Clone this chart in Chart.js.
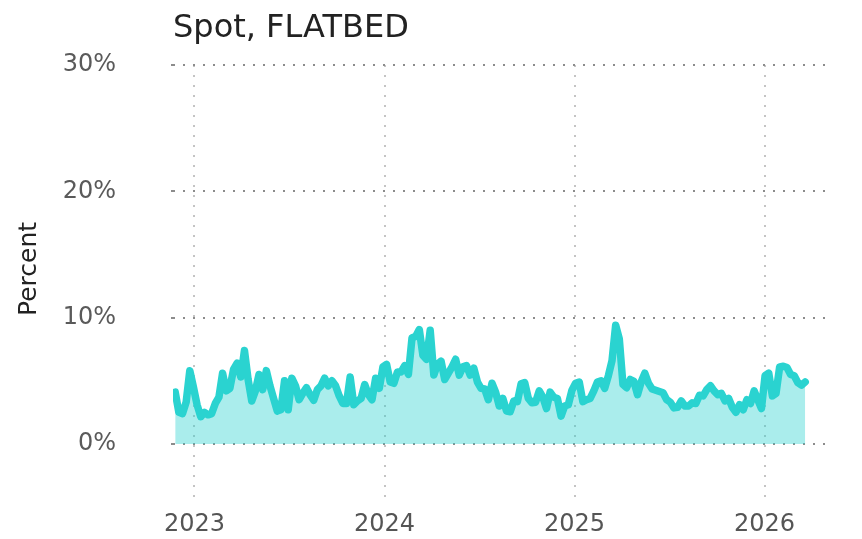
<!DOCTYPE html>
<html>
<head>
<meta charset="utf-8">
<script src="https://cdn.jsdelivr.net/npm/chart.js@4.4.1/dist/chart.umd.min.js"></script>
<style>
  html, body { margin: 0; padding: 0; background: #fff; }
</style>
</head>
<body>
<canvas id="spot-chart" width="862" height="539"></canvas>
<script>
// weekly spot rate series, first week ending 2022-11-25
const firstWeek = '2022-11-25';
const spotValues = [
  4.1, 2.5, 2.4, 3.3, 5.8, 4.5, 3.1, 2.15, 2.5, 2.3,
  2.4, 3.2, 3.7, 5.6, 4.2, 4.4, 5.9, 6.4, 5.3, 7.4,
  5.1, 3.4, 4.2, 5.5, 4.3, 5.8, 4.6, 3.6, 2.6, 2.7,
  5.0, 2.7, 5.2, 4.6, 3.5, 4.0, 4.45, 3.9, 3.45, 4.3,
  4.6, 5.2, 4.6, 5.0, 4.6, 3.8, 3.2, 3.2, 5.3, 3.1,
  3.4, 3.6, 4.7, 3.9, 3.5, 5.2, 4.4, 6.1, 6.3, 4.9,
  4.8, 5.7, 5.7, 6.2, 5.5, 8.4, 8.5, 9.05, 7.0, 6.7,
  9.0, 5.45, 6.3, 6.55, 5.1, 5.6, 6.1, 6.7, 5.45, 6.1,
  6.2, 5.45, 6.0, 4.9, 4.4, 4.35, 3.5, 4.8, 4.1, 3.0,
  3.6, 2.6, 2.55, 3.4, 3.35, 4.75, 4.85, 3.6, 3.25, 3.3,
  4.2, 3.7, 2.8, 4.1, 3.7, 3.6, 2.2, 3.0, 3.1, 4.25,
  4.8, 4.9, 3.35, 3.5, 3.6, 4.2, 4.9, 5.0, 4.4, 5.4,
  6.6, 9.4, 8.3, 4.7, 4.45, 5.1, 4.95, 3.9, 4.9, 5.6,
  4.8, 4.35, 4.25, 4.15, 4.05, 3.5, 3.3, 2.85, 2.9, 3.4,
  3.0, 3.0, 3.25, 3.2, 3.85, 3.8, 4.3, 4.6, 4.2, 3.9,
  4.0, 3.4, 3.6, 2.9, 2.5, 3.1, 2.7, 3.5, 3.2, 4.2,
  3.5, 2.8, 5.4, 5.6, 3.8, 4.0, 6.1, 6.15, 6.05, 5.5,
  5.4, 4.85, 4.65, 4.9
];
const yearTicks = [2023, 2024, 2025, 2026];
const percentTicks = [0, 10, 20, 30];

// date -> fractional year, so the linear x axis can put gridlines on Jan 1
function toYear(d) {
  const y = d.getUTCFullYear();
  const start = Date.UTC(y, 0, 1), end = Date.UTC(y + 1, 0, 1);
  return y + (d.getTime() - start) / (end - start);
}

const t0 = new Date(firstWeek + 'T00:00:00Z');
const points = spotValues.map(function (v, i) {
  const d = new Date(t0.getTime() + i * 7 * 86400000);
  return { x: toYear(d), y: v };
});

const FONT = 'DejaVu Sans';

// title and y axis label drawn by hand so they sit where the original has them
const textPlugin = {
  id: 'textPlugin',
  afterDraw(chart) {
    const ctx = chart.ctx;
    ctx.save();
    ctx.fillStyle = '#222';
    ctx.font = '32px "' + FONT + '"';
    ctx.textAlign = 'left';
    ctx.textBaseline = 'alphabetic';
    ctx.fillText('Spot, FLATBED', 173, 37);

    ctx.font = '25px "' + FONT + '"';
    ctx.translate(29, 269);
    ctx.rotate(-Math.PI / 2);
    ctx.textAlign = 'center';
    ctx.textBaseline = 'middle';
    ctx.fillText('Percent', 0, 0);
    ctx.restore();
  }
};

new Chart(document.getElementById('spot-chart'), {
  type: 'line',
  data: {
    datasets: [{
      label: 'Spot, FLATBED',
      data: points,
      borderColor: '#2ad3d0',
      backgroundColor: 'rgba(42,211,208,0.4)',
      borderWidth: 7.5,
      borderJoinStyle: 'round',
      borderCapStyle: 'round',
      pointRadius: 0,
      tension: 0,
      fill: 'origin'
    }]
  },
  options: {
    responsive: false,
    animation: false,
    layout: { padding: { top: 65, right: 37, bottom: 0, left: 0 } },
    plugins: {
      legend: { display: false },
      tooltip: { enabled: false }
    },
    scales: {
      x: {
        type: 'linear',
        min: 2022.887,
        max: 2026.318,
        afterBuildTicks: function (s) { s.ticks = yearTicks.map(v => ({ value: v })); },
        afterFit: function (s) { s.height = 37; },
        grid: { color: '#c4c4c4', lineWidth: 2, drawTicks: false },
        border: { display: false, dash: [2, 8] },
        ticks: {
          callback: v => String(v),
          color: '#555',
          font: { family: FONT, size: 24 },
          padding: 8,
          maxRotation: 0
        }
      },
      y: {
        min: -4.6,
        max: 30,
        afterBuildTicks: function (s) { s.ticks = percentTicks.map(v => ({ value: v })); },
        afterFit: function (s) { s.width = 173; },
        grid: {
          color: '#8c8c8c',
          lineWidth: 2,
          tickLength: 36,
          tickColor: '#8c8c8c',
          tickBorderDash: [2, 34],
          tickBorderDashOffset: 2
        },
        border: { display: false, dash: [2, 8] },
        ticks: {
          callback: v => v + '%',
          color: '#5a5a5a',
          font: { family: FONT, size: 24 },
          padding: 21
        }
      }
    }
  },
  plugins: [textPlugin]
});
</script>
</body>
</html>
